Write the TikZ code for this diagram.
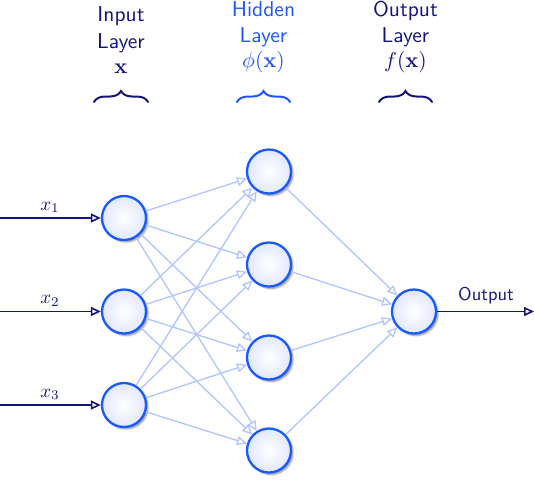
\documentclass[tikz,border=0pt]{standalone}
\usepackage{graphicx}
\usetikzlibrary{arrows.meta,shadows.blur,decorations.pathreplacing}
\definecolor{navy}{RGB}{20,20,125}
\definecolor{hidblue}{RGB}{30,85,255}
\definecolor{ringblue}{RGB}{25,90,255}
\definecolor{linkblue}{RGB}{175,197,255}
\definecolor{fillblue}{RGB}{226,232,252}
\newcommand{\HdrS}[1]{\scalebox{2.15}{#1}}
\newcommand{\LblS}[1]{\scalebox{1.9}{#1}}
\newcommand{\OutS}[1]{\scalebox{1.85}{#1}}
\begin{document}
\begin{tikzpicture}[x=1pt,y=1pt,
  neuron/.style={circle,minimum size=44pt,inner sep=0pt,draw=ringblue,line width=2.3pt,
    shading=radial,inner color=white,outer color=fillblue,
    blur shadow={shadow xshift=2pt,shadow yshift=-2pt,shadow blur steps=6,shadow opacity=45}},
  link/.style={draw=linkblue,line width=1.3pt,-{Triangle[open,length=10pt,width=9pt]}},
  inlink/.style={draw=navy,line width=1.6pt,-{Triangle[open,length=10pt,width=9pt]}},
  hdr/.style={font=\sffamily,anchor=base,inner sep=0pt},
  lbl/.style={anchor=base,inner sep=0pt,text=navy},
  brc/.style={decorate,decoration={brace,amplitude=11pt},line width=2pt,line cap=round}]
\useasboundingbox (0,0) rectangle (534,-480);
% headers
\node[hdr,text=navy] (h1a) at (121,-21.5) {\HdrS{Input}};
\node[hdr,text=navy] (h1b) at (121,-48) {\HdrS{Layer}};
\node[hdr,text=navy] (h1c) at (121,-73) {\HdrS{$\mathbf{x}$}};
\node[hdr,text=hidblue] (h2a) at (263.5,-16.5) {\HdrS{Hidden}};
\node[hdr,text=hidblue] (h2b) at (263.5,-42.5) {\HdrS{Layer}};
\node[hdr,text=hidblue] (h2c) at (263.5,-67.5) {\HdrS{$\phi(\mathbf{x})$}};
\node[hdr,text=navy] (h3a) at (405.5,-16.5) {\HdrS{Output}};
\node[hdr,text=navy] (h3b) at (405.5,-42.5) {\HdrS{Layer}};
\node[hdr,text=navy] (h3c) at (405.5,-67.5) {\HdrS{$f(\mathbf{x})$}};
\coordinate (b1l) at (94,-102); \coordinate (b1r) at (148,-102);
\coordinate (b2l) at (237,-102); \coordinate (b2r) at (290,-102);
\coordinate (b3l) at (379,-102); \coordinate (b3r) at (432,-102);
\draw[brc,navy] (b1l) -- (b1r);
\draw[brc,hidblue] (b2l) -- (b2r);
\draw[brc,navy] (b3l) -- (b3r);
% neurons
\node[neuron] (i1) at (124,-218) {};
\node[neuron] (i2) at (124,-311.5) {};
\node[neuron] (i3) at (124,-405) {};
\node[neuron] (n1) at (269,-171.5) {};
\node[neuron] (n2) at (269,-264.5) {};
\node[neuron] (n3) at (269,-357.5) {};
\node[neuron] (n4) at (269,-450.5) {};
\node[neuron] (o1) at (414,-311.5) {};
% links
\foreach \i in {1,2,3}{\foreach \h in {1,2,3,4}{\draw[link] (i\i) -- (n\h);}}
\foreach \h in {1,2,3,4}{\draw[link] (n\h) -- (o1);}
% inputs
\coordinate (s1) at (0,-218); \coordinate (s2) at (0,-311.5); \coordinate (s3) at (0,-405);
\draw[inlink] (s1) -- (i1);
\draw[inlink] (s2) -- (i2);
\draw[inlink] (s3) -- (i3);
\node[lbl] (x1) at (50,-210) {\LblS{$x_1$}};
\node[lbl] (x2) at (50,-303.5) {\LblS{$x_2$}};
\node[lbl] (x3) at (50,-397) {\LblS{$x_3$}};
\coordinate (e1) at (534,-311.5);
\draw[inlink] (o1) -- (e1);
\node[lbl,font=\sffamily] (ol) at (486,-300) {\OutS{Output}};
\end{tikzpicture}
\end{document}
